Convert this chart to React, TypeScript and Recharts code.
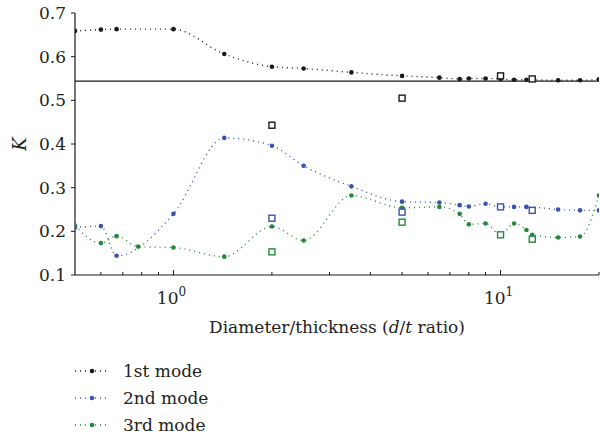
import { ComposedChart, Line, XAxis, YAxis, ReferenceLine, Legend } from 'recharts'

// d/t ratio values (log axis)
const X_MODES = [0.5, 0.6, 0.67, 1, 1.43, 2, 2.5, 3.5, 5, 6.5, 7.5, 8, 9, 10, 11, 12, 15, 17.5, 20]
const K_1ST = [0.659, 0.662, 0.663, 0.663, 0.606, 0.577, 0.573, 0.564, 0.556, 0.552, 0.549, 0.55, 0.55, 0.549, 0.547, 0.547, 0.546, 0.546, 0.548]
const K_2ND = [0.209, 0.212, 0.144, 0.24, 0.414, 0.396, 0.35, 0.303, 0.268, 0.266, 0.26, 0.257, 0.263, 0.256, 0.256, 0.256, 0.25, 0.248, 0.248]
const X_3RD = [0.5, 0.6, 0.67, 0.78, 1, 1.43, 2, 2.5, 3.5, 5, 6.5, 7.5, 8, 9, 10, 11, 12, 12.5, 15, 17.5, 20]
const K_3RD = [0.213, 0.173, 0.189, 0.165, 0.163, 0.142, 0.211, 0.179, 0.282, 0.254, 0.256, 0.24, 0.216, 0.218, 0.192, 0.218, 0.203, 0.192, 0.186, 0.188, 0.282]

// open squares (reference values)
const X_REF = [2, 5, 10, 12.5]
const REF_1ST = [0.443, 0.505, 0.556, 0.549]
const REF_2ND = [0.23, 0.244, 0.256, 0.248]
const REF_3RD = [0.153, 0.221, 0.192, 0.182]

const X_TICKS = [0.6, 0.7, 0.8, 0.9, 1, 2, 3, 4, 5, 6, 7, 8, 9, 10, 20]
const X_MAJOR = [1, 10]
const Y_TICKS = [0.1, 0.2, 0.3, 0.4, 0.5, 0.6, 0.7]
const BREAK_K = 0.544

const FONT = '"DejaVu Serif", serif'
const BLACK = '#1a1a1a'
const BLUE = '#3a52b4'
const GREEN = '#22893c'

const zip = (xs: number[], ys: number[]) => xs.map((x, i) => ({ x, y: ys[i] }))

const series = [
  { name: '1st mode', color: BLACK, data: zip(X_MODES, K_1ST), ref: zip(X_REF, REF_1ST) },
  { name: '2nd mode', color: BLUE, data: zip(X_MODES, K_2ND), ref: zip(X_REF, REF_2ND) },
  { name: '3rd mode', color: GREEN, data: zip(X_3RD, K_3RD), ref: zip(X_REF, REF_3RD) },
]

function BottomTick({ x, y, payload }: any) {
  const major = X_MAJOR.includes(payload.value)
  return (
    <g>
      <line x1={x} y1={y} x2={x} y2={y - (major ? 5 : 3)} stroke={BLACK} strokeWidth={1} />
      {major && (
        <text x={x - 2} y={y + 29} textAnchor="middle" fontFamily={FONT} fontSize={17} fill="#222">
          10
          <tspan dy={-8} fontSize={12}>{Math.round(Math.log10(payload.value))}</tspan>
        </text>
      )}
    </g>
  )
}

function TopTick({ x, y, payload }: any) {
  const major = X_MAJOR.includes(payload.value)
  return <line x1={x} y1={y} x2={x} y2={y + (major ? 5 : 3)} stroke={BLACK} strokeWidth={1} />
}

function RightTick({ x, y }: any) {
  return <line x1={x} y1={y} x2={x - 4} y2={y} stroke={BLACK} strokeWidth={1} />
}

function XLabel({ viewBox }: any) {
  const cx = viewBox.x + viewBox.width / 2
  return (
    <text x={cx} y={viewBox.y + 58} textAnchor="middle" fontFamily={FONT} fontSize={17} fill="#222">
      Diameter/thickness (<tspan fontStyle="italic">d</tspan>/<tspan fontStyle="italic">t</tspan> ratio)
    </text>
  )
}

function YLabel({ viewBox }: any) {
  const cx = viewBox.x + 4
  const cy = viewBox.y + viewBox.height / 2
  return (
    <text x={cx} y={cy} transform={`rotate(-90 ${cx} ${cy})`} textAnchor="middle" dominantBaseline="central"
      fontFamily={FONT} fontSize={18} fontStyle="italic" fill="#222">
      K
    </text>
  )
}

function Square({ cx, cy, stroke }: any) {
  if (cx == null || cy == null) return null
  return <rect x={cx - 3} y={cy - 3} width={6} height={6} fill="#fff" stroke={stroke} strokeWidth={1.4} />
}

function LegendBox() {
  return (
    <div style={{ fontFamily: FONT, fontSize: 17, color: '#222' }}>
      {series.map(s => (
        <div key={s.name} style={{ display: 'flex', alignItems: 'center', height: 27 }}>
          <svg width={48} height={10} style={{ marginRight: 5 }}>
            <line x1={5} y1={5} x2={40} y2={5} stroke={s.color} strokeWidth={1.4} strokeDasharray="1 4" />
            <circle cx={22} cy={5} r={2.3} fill={s.color} />
          </svg>
          <span>{s.name}</span>
        </div>
      ))}
    </div>
  )
}

export default function App() {
  return (
    <div style={{ position: 'absolute', left: 0, top: 0, background: '#fff' }}>
      <ComposedChart width={600} height={436} margin={{ top: 13, right: 1, left: 15, bottom: 101 }}>
        <XAxis
          dataKey="x"
          type="number"
          scale="log"
          domain={[0.5, 20]}
          allowDataOverflow
          ticks={X_TICKS}
          interval={0}
          height={60}
          tickSize={0}
          tickMargin={0}
          tickLine={false}
          axisLine={{ stroke: BLACK, strokeWidth: 1.2 }}
          tick={<BottomTick />}
          label={<XLabel />}
        />
        <XAxis
          xAxisId="top"
          orientation="top"
          dataKey="x"
          type="number"
          scale="log"
          domain={[0.5, 20]}
          allowDataOverflow
          ticks={X_TICKS}
          interval={0}
          height={0}
          tickSize={0}
          tickMargin={0}
          tickLine={false}
          axisLine={{ stroke: BLACK, strokeWidth: 1.2 }}
          tick={<TopTick />}
        />
        <YAxis
          type="number"
          domain={[0.1, 0.7]}
          allowDataOverflow
          ticks={Y_TICKS}
          interval={0}
          width={60}
          tickSize={4}
          tickMargin={5}
          tickFormatter={(v: number) => v.toFixed(1)}
          tick={{ fontFamily: FONT, fontSize: 17, fill: '#222' }}
          tickLine={{ stroke: BLACK }}
          axisLine={{ stroke: BLACK, strokeWidth: 1.2 }}
          label={<YLabel />}
        />
        <YAxis
          yAxisId="right"
          orientation="right"
          type="number"
          domain={[0.1, 0.7]}
          allowDataOverflow
          ticks={Y_TICKS}
          interval={0}
          width={0}
          tickSize={0}
          tickMargin={0}
          tickLine={false}
          axisLine={{ stroke: BLACK, strokeWidth: 1.2 }}
          tick={<RightTick />}
        />
        <ReferenceLine y={BREAK_K} stroke={BLACK} strokeWidth={1.3} />
        {series.map(s => (
          <Line
            key={s.name}
            data={s.data}
            dataKey="y"
            name={s.name}
            type="monotone"
            stroke={s.color}
            strokeWidth={1.4}
            strokeDasharray="1 4"
            dot={{ r: 2.3, fill: s.color, stroke: 'none' }}
            activeDot={false}
            isAnimationActive={false}
          />
        ))}
        {series.map(s => (
          <Line
            key={s.name + '-ref'}
            data={s.ref}
            dataKey="y"
            stroke="none"
            legendType="none"
            dot={<Square stroke={s.color} />}
            activeDot={false}
            isAnimationActive={false}
          />
        ))}
        <Legend
          layout="vertical"
          align="center"
          verticalAlign="middle"
          wrapperStyle={{ left: 70, top: 357, width: 220 }}
          content={<LegendBox />}
        />
      </ComposedChart>
    </div>
  )
}
